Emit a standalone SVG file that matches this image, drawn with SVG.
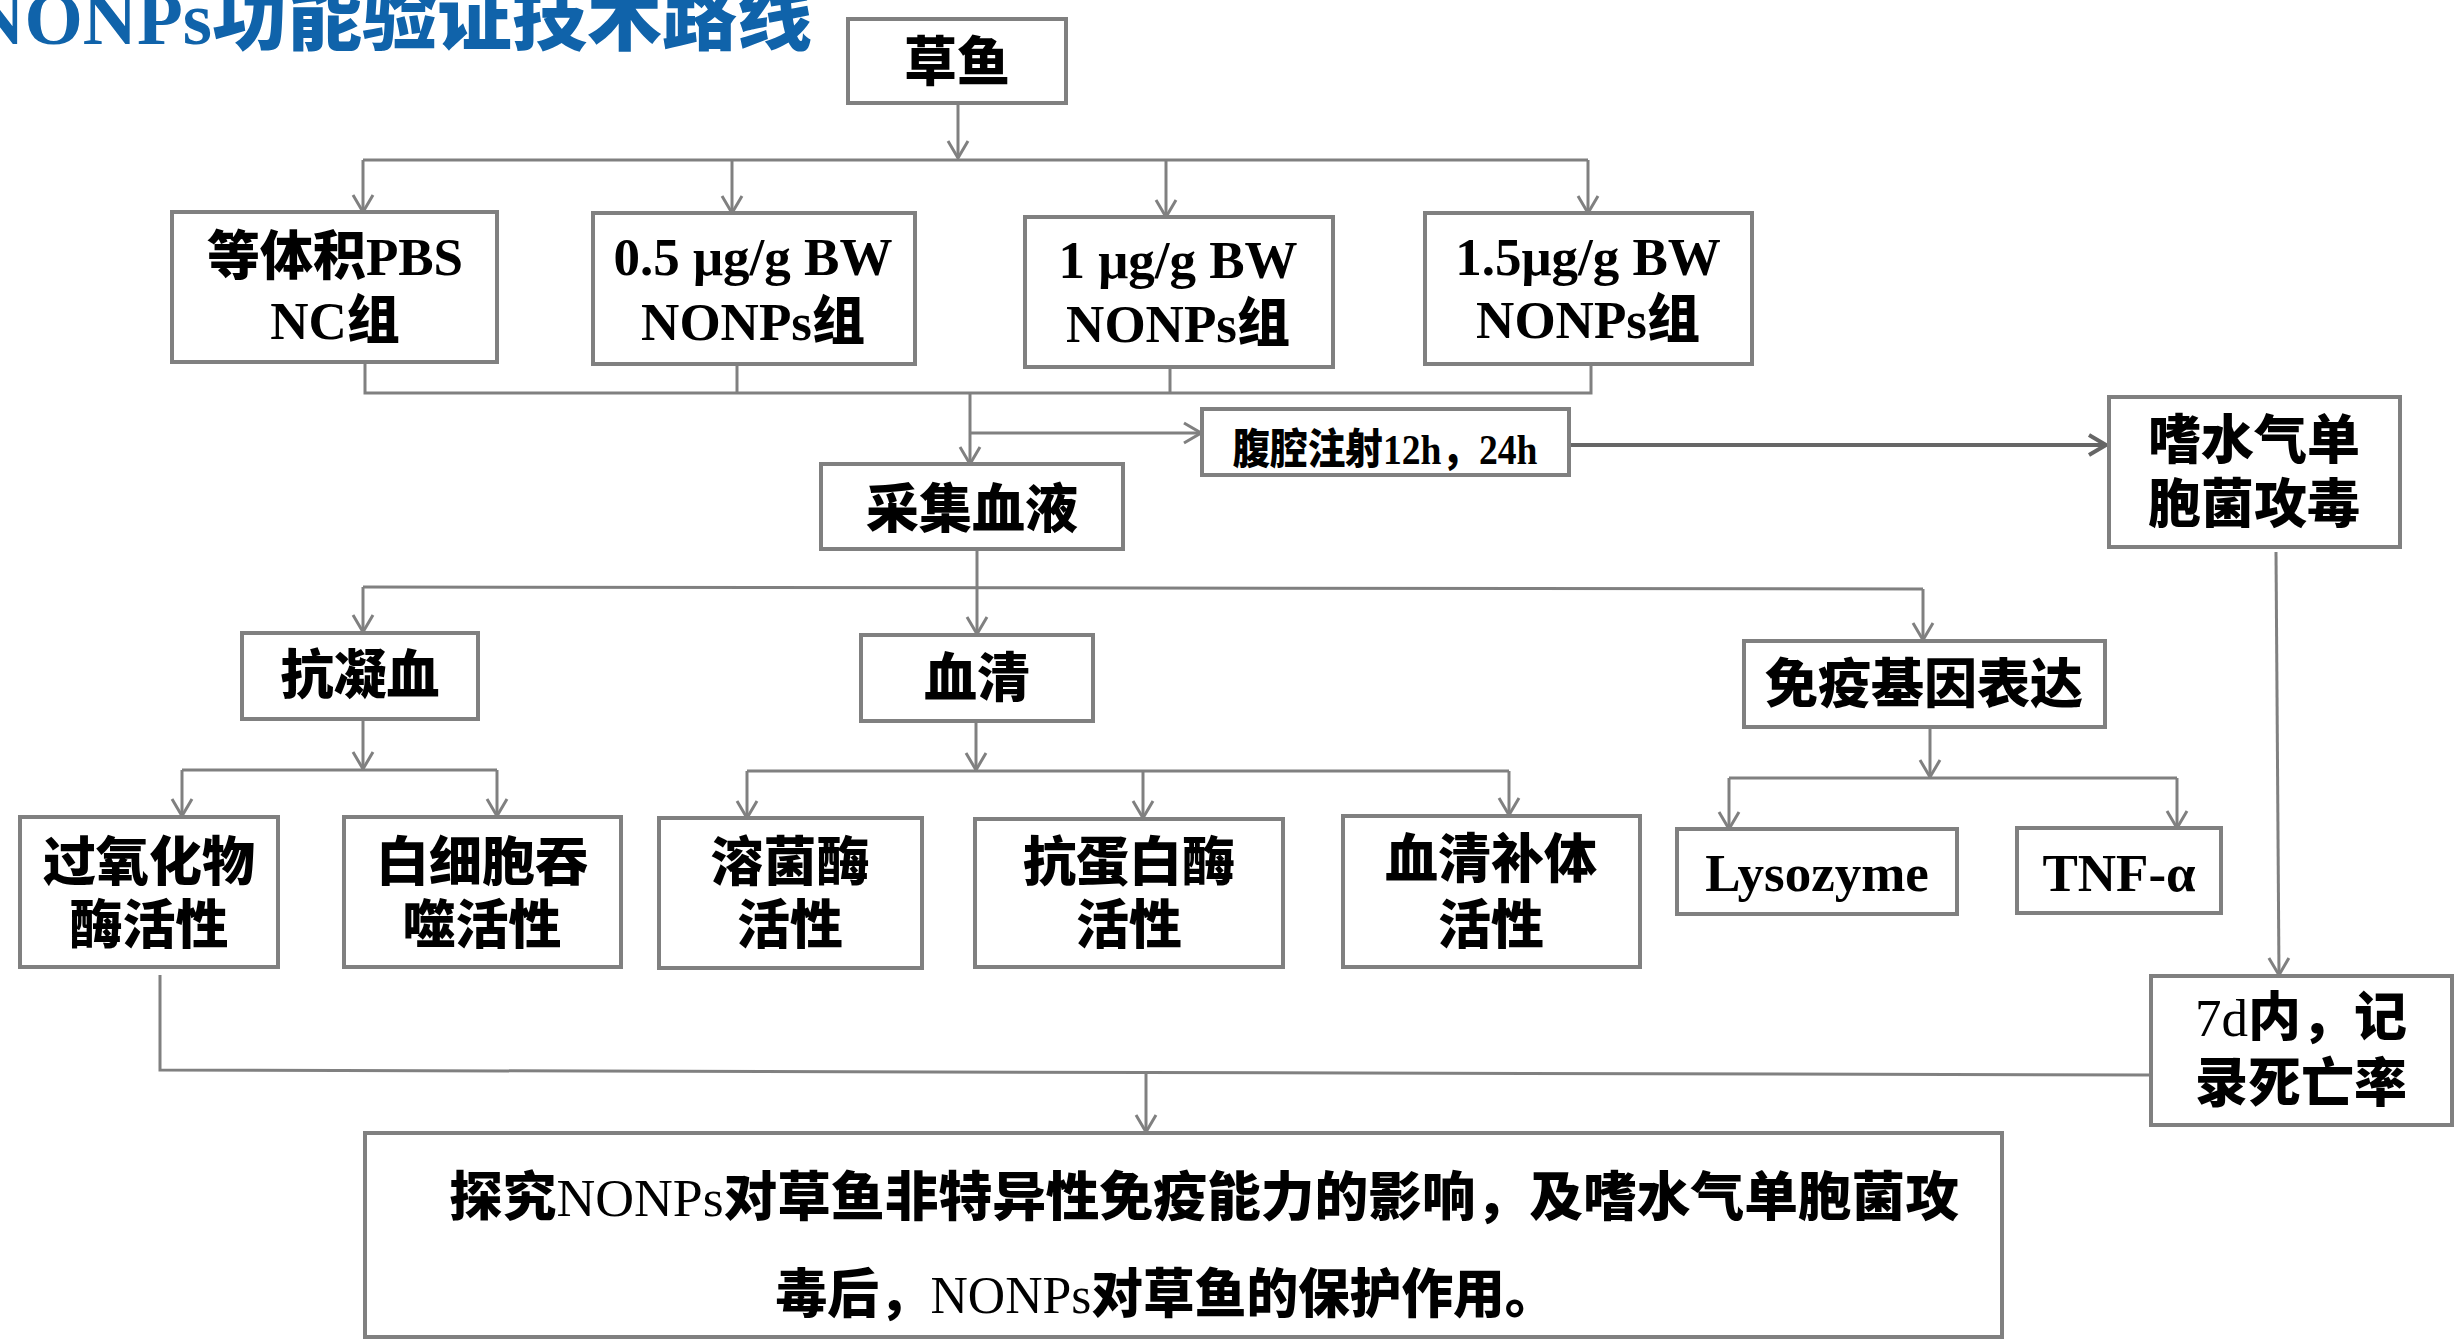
<svg xmlns="http://www.w3.org/2000/svg" width="2459" height="1341" viewBox="0 0 2459 1341">
<style>
  .box { fill: #ffffff; stroke: #808080; stroke-width: 4; }
  .t { font-family: "Liberation Serif", "Noto Sans CJK SC", serif; font-weight: 900; font-size: 53px; fill: #000000; text-anchor: middle; }
  .n { font-weight: normal; }
  .c { fill: none; stroke: #808080; stroke-width: 3; }
  .cd { fill: none; stroke: #666666; stroke-width: 4; }
  .title { font-family: "Liberation Serif", "Noto Sans CJK SC", serif; font-weight: 900; font-size: 75px; fill: #1063AA; text-anchor: end; }
</style>
<defs>
  <marker id="ah" viewBox="0 0 20 24" refX="19" refY="12" markerWidth="20" markerHeight="24" markerUnits="userSpaceOnUse" orient="auto">
    <path d="M2,2 L19,12 L2,22" fill="none" stroke="#808080" stroke-width="3"/>
  </marker>
  <marker id="ahd" viewBox="0 0 20 24" refX="19" refY="12" markerWidth="20" markerHeight="24" markerUnits="userSpaceOnUse" orient="auto">
    <path d="M2,2 L19,12 L2,22" fill="none" stroke="#666666" stroke-width="4"/>
  </marker>
</defs>
<rect x="0" y="0" width="2459" height="1341" fill="#ffffff"/>

<text class="title" x="812" y="44">NONPs功能验证技术路线</text>

<g id="connectors">
  <path class="c" d="M958,103 V158" marker-end="url(#ah)"/>
  <path class="c" d="M363,160 H1588"/>
  <path class="c" d="M363,160 V212" marker-end="url(#ah)"/>
  <path class="c" d="M732,161 V213" marker-end="url(#ah)"/>
  <path class="c" d="M1166,161 V217" marker-end="url(#ah)"/>
  <path class="c" d="M1588,160 V213" marker-end="url(#ah)"/>

  <path class="c" d="M365,362 V393 H1591 V364"/>
  <path class="c" d="M737,364 V393"/>
  <path class="c" d="M1170,367 V393"/>
  <path class="c" d="M970,393 V464" marker-end="url(#ah)"/>
  <path class="c" d="M970,433 H1201" marker-end="url(#ah)"/>
  <path class="cd" d="M1569,445 H2106" marker-end="url(#ahd)"/>

  <path class="c" d="M977,549 V634" marker-end="url(#ah)"/>
  <path class="c" d="M363,587 L1923,589"/>
  <path class="c" d="M363,587 V632" marker-end="url(#ah)"/>
  <path class="c" d="M1923,589 V640" marker-end="url(#ah)"/>

  <path class="c" d="M363,719 V769" marker-end="url(#ah)"/>
  <path class="c" d="M182,770 H497"/>
  <path class="c" d="M182,770 V816" marker-end="url(#ah)"/>
  <path class="c" d="M497,770 V816" marker-end="url(#ah)"/>

  <path class="c" d="M976,721 V770" marker-end="url(#ah)"/>
  <path class="c" d="M747,771 H1509"/>
  <path class="c" d="M747,771 V818" marker-end="url(#ah)"/>
  <path class="c" d="M1143,771 V818" marker-end="url(#ah)"/>
  <path class="c" d="M1509,771 V815" marker-end="url(#ah)"/>

  <path class="c" d="M1930,727 V777" marker-end="url(#ah)"/>
  <path class="c" d="M1729,778 H2177"/>
  <path class="c" d="M1729,778 V829" marker-end="url(#ah)"/>
  <path class="c" d="M2177,778 V828" marker-end="url(#ah)"/>

  <path class="c" d="M2276,552 L2279,975" marker-end="url(#ah)"/>

  <path class="c" d="M160,975 V1070 L2151,1075"/>
  <path class="c" d="M1146,1073 V1132" marker-end="url(#ah)"/>
</g>

<g id="n-caoyu">
  <rect class="box" x="848" y="19" width="218" height="84"/>
  <text class="t" x="957" y="81">草鱼</text>
</g>
<g id="n-pbs">
  <rect class="box" x="172" y="212" width="325" height="150"/>
  <text class="t" x="335" y="275">等体积PBS</text>
  <text class="t" x="335" y="339">NC组</text>
</g>
<g id="n-05">
  <rect class="box" x="593" y="213" width="322" height="151"/>
  <text class="t" x="753" y="275">0.5 μg/g BW</text>
  <text class="t" x="753" y="340">NONPs组</text>
</g>
<g id="n-1">
  <rect class="box" x="1025" y="217" width="308" height="150"/>
  <text class="t" x="1178" y="278">1 μg/g BW</text>
  <text class="t" x="1178" y="342">NONPs组</text>
</g>
<g id="n-15">
  <rect class="box" x="1425" y="213" width="327" height="151"/>
  <text class="t" x="1588" y="275">1.5μg/g BW</text>
  <text class="t" x="1588" y="338">NONPs组</text>
</g>
<g id="n-inject">
  <rect class="box" x="1202" y="409" width="367" height="66"/>
  <text class="t" x="1385" y="464" style="font-size:42px" textLength="305" lengthAdjust="spacingAndGlyphs">腹腔注射12h，24h</text>
</g>
<g id="n-blood">
  <rect class="box" x="821" y="464" width="302" height="85"/>
  <text class="t" x="972" y="528">采集血液</text>
</g>
<g id="n-challenge">
  <rect class="box" x="2109" y="397" width="291" height="150"/>
  <text class="t" x="2254" y="459">嗜水气单</text>
  <text class="t" x="2254" y="523">胞菌攻毒</text>
</g>
<g id="n-anticoag">
  <rect class="box" x="242" y="633" width="236" height="86"/>
  <text class="t" x="360" y="694">抗凝血</text>
</g>
<g id="n-serum">
  <rect class="box" x="861" y="635" width="232" height="86"/>
  <text class="t" x="977" y="697">血清</text>
</g>
<g id="n-gene">
  <rect class="box" x="1744" y="641" width="361" height="86"/>
  <text class="t" x="1924" y="703">免疫基因表达</text>
</g>
<g id="n-pox">
  <rect class="box" x="20" y="817" width="258" height="150"/>
  <text class="t" x="149" y="881">过氧化物</text>
  <text class="t" x="149" y="944">酶活性</text>
</g>
<g id="n-phago">
  <rect class="box" x="344" y="817" width="277" height="150"/>
  <text class="t" x="482" y="881">白细胞吞</text>
  <text class="t" x="482" y="944">噬活性</text>
</g>
<g id="n-lyso">
  <rect class="box" x="659" y="818" width="263" height="150"/>
  <text class="t" x="790" y="881">溶菌酶</text>
  <text class="t" x="790" y="944">活性</text>
</g>
<g id="n-antiprot">
  <rect class="box" x="975" y="819" width="308" height="148"/>
  <text class="t" x="1129" y="881">抗蛋白酶</text>
  <text class="t" x="1129" y="944">活性</text>
</g>
<g id="n-complement">
  <rect class="box" x="1343" y="816" width="297" height="151"/>
  <text class="t" x="1491" y="878">血清补体</text>
  <text class="t" x="1491" y="944">活性</text>
</g>
<g id="n-lysozyme">
  <rect class="box" x="1677" y="829" width="280" height="85"/>
  <text class="t" x="1817" y="891">Lysozyme</text>
</g>
<g id="n-tnf">
  <rect class="box" x="2017" y="828" width="204" height="85"/>
  <text class="t" x="2119" y="891">TNF-α</text>
</g>
<g id="n-mort">
  <rect class="box" x="2151" y="976" width="301" height="149"/>
  <text class="t" x="2301" y="1036"><tspan class="n">7d</tspan>内，记</text>
  <text class="t" x="2301" y="1102">录死亡率</text>
</g>
<g id="n-goal">
  <rect class="box" x="365" y="1133" width="1637" height="204"/>
  <text class="t" x="1204" y="1216" textLength="1510" lengthAdjust="spacingAndGlyphs">探究<tspan class="n">NONPs</tspan>对草鱼非特异性免疫能力的影响，及嗜水气单胞菌攻</text>
  <text class="t" x="1166" y="1313" textLength="781" lengthAdjust="spacingAndGlyphs">毒后，<tspan class="n">NONPs</tspan>对草鱼的保护作用。</text>
</g>
</svg>
